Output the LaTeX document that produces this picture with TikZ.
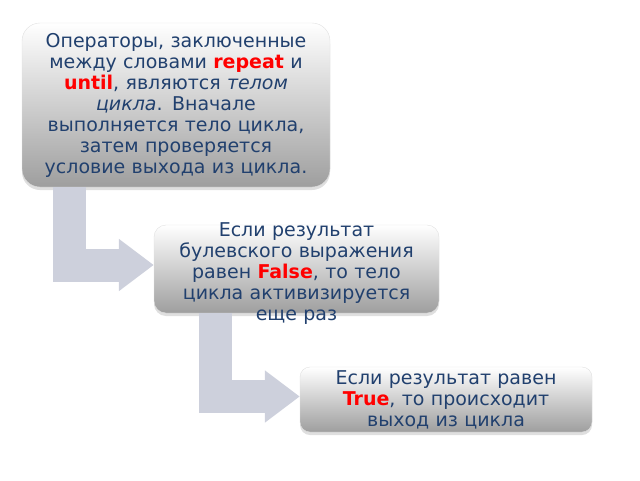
\documentclass[tikz,border=0pt]{standalone}
\usepackage{fontspec}
\setmainfont{DejaVu Sans}
\usetikzlibrary{arrows.meta,shadows}
\definecolor{textblue}{RGB}{33,64,110}
\definecolor{keyred}{RGB}{255,0,0}
\definecolor{arrowgray}{RGB}{205,208,220}
\newcommand{\kw}[1]{\textcolor{keyred}{\textbf{#1}}}
\begin{document}
\begin{tikzpicture}[x=1pt,y=-1pt,line join=miter]
				\tikzset{box/.style={draw=black!12, top color=white, bottom color=black!38, drop shadow={opacity=0.25,shadow xshift=0pt,shadow yshift=-3pt}, align=center, text=textblue, font=\fontsize{19}{21}\selectfont},
				flow/.style={arrowgray, line width=33pt, -{Triangle[length=35pt,width=50pt]}}}
				\useasboundingbox (0,0) rectangle (640,480);
				\node[box, rounded corners=18pt, minimum width=308, minimum height=164, text width=298] (A) at (176,105)
				{Операторы, заключенные\\ между словами \kw{repeat} и\\ \kw{until}, являются \textit{телом}\\ \textit{цикла}. Вначале\\ выполняется тело цикла,\\ затем проверяется\\ условие выхода из цикла.};
				\node[box, rounded corners=12pt, text width=269, inner xsep=8pt, inner ysep=0pt, text height=11pt, text depth=77pt] (B) at (296.5,269)
				{Если результат\\ булевского выражения\\ равен \kw{False}, то тело\\ цикла активизируется\\ еще раз};
				\node[box, rounded corners=10pt, minimum width=292, minimum height=65, text width=282, inner ysep=2pt] (C) at (446,399.5)
				{Если результат равен\\ \kw{True}, то происходит\\ выход из цикла};
				\draw[flow] ([xshift=47.5pt]A.south west) |- ([yshift=4pt]B.west);
				\draw[flow] ([xshift=62pt]B.south west) |- ([yshift=3pt]C.west);
\end{tikzpicture}
\end{document}
